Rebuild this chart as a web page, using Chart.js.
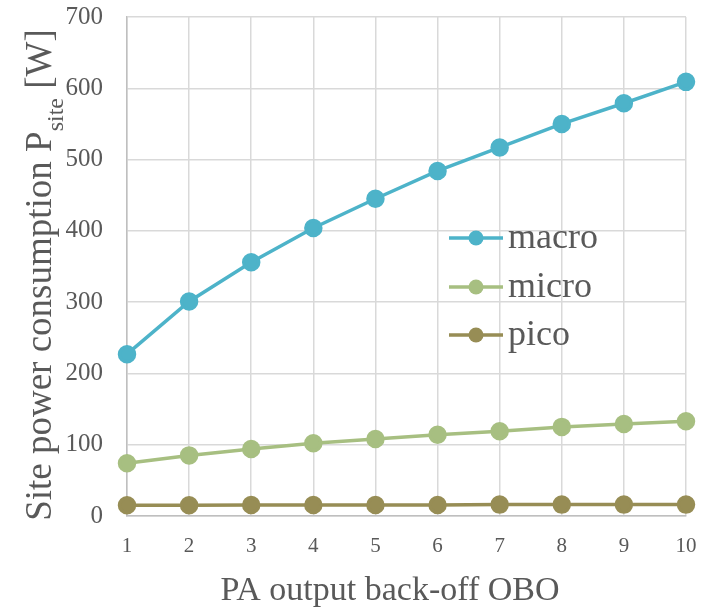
<!DOCTYPE html>
<html>
<head>
<meta charset="utf-8">
<script src="https://cdn.jsdelivr.net/npm/chart.js@4"></script>
<style>
  html, body { margin: 0; padding: 0; background: #fff; }
  #wrap { width: 703px; height: 608px; position: relative; }
</style>
</head>
<body>
<div id="wrap"><canvas id="obo-chart"></canvas></div>
<script>
const obo = ['1', '2', '3', '4', '5', '6', '7', '8', '9', '10'];
const macro = [227, 301, 356, 404, 445, 484, 517, 550, 579, 609];
const micro = [74, 85, 94, 102, 108, 114, 119, 125, 129, 133];
const pico = [15, 15, 15.5, 15.5, 15.5, 15.5, 16, 16, 16, 16];

const textColor = '#595959';
const serif = '"Liberation Serif", "Times New Roman", serif';

const colors = {
  macro: '#4db3c9',
  micro: '#a7bf81',
  pico: '#978d55'
};

function series(label, values, color) {
  return {
    label: label,
    data: values,
    borderColor: color,
    backgroundColor: color,
    pointBackgroundColor: color,
    pointBorderColor: color,
    borderWidth: 3.5,
    pointRadius: 7.5,
    pointHoverRadius: 7.5,
    tension: 0
  };
}

// axis titles (y one needs a subscript) and the in-plot legend
const decorations = {
  id: 'decorations',
  afterDraw(chart) {
    const ctx = chart.ctx;
    ctx.save();
    ctx.fillStyle = textColor;
    ctx.textBaseline = 'alphabetic';

    // x title
    ctx.font = '34px ' + serif;
    ctx.textAlign = 'center';
    ctx.fillText('PA output back-off OBO', 390, 600);

    // y title, rotated
    const main1 = 'Site power consumption P';
    const sub = 'site';
    const main2 = ' [W]';
    ctx.textAlign = 'left';
    ctx.translate(51, 275);
    ctx.rotate(-Math.PI / 2);
    ctx.font = '37px ' + serif;
    const w1 = ctx.measureText(main1).width;
    const w3 = ctx.measureText(main2).width;
    ctx.font = '24px ' + serif;
    const w2 = ctx.measureText(sub).width;
    let x = -(w1 + w2 + w3) / 2;
    ctx.font = '37px ' + serif;
    ctx.fillText(main1, x, 0);
    x += w1;
    ctx.font = '24px ' + serif;
    ctx.fillText(sub, x, 12);
    x += w2;
    ctx.font = '37px ' + serif;
    ctx.fillText(main2, x, 0);
    ctx.restore();

    // legend inside the plot
    ctx.save();
    const rows = [238, 287, 335];
    chart.data.datasets.forEach(function (ds, i) {
      const y = rows[i];
      ctx.strokeStyle = ds.borderColor;
      ctx.lineWidth = 3.5;
      ctx.beginPath();
      ctx.moveTo(449, y);
      ctx.lineTo(503, y);
      ctx.stroke();
      ctx.fillStyle = ds.borderColor;
      ctx.beginPath();
      ctx.arc(476, y, 7.5, 0, Math.PI * 2);
      ctx.fill();
      ctx.fillStyle = textColor;
      ctx.font = '36px ' + serif;
      ctx.textAlign = 'left';
      ctx.textBaseline = 'middle';
      ctx.fillText(ds.label, 508, y + 1);
    });
    ctx.restore();
  }
};

// tick padding also pads the chart area, so the label gap comes from
// invisible tick marks instead
const config = {
  type: 'line',
  data: {
    labels: obo,
    datasets: [
      series('macro', macro, colors.macro),
      series('micro', micro, colors.micro),
      series('pico', pico, colors.pico)
    ]
  },
  options: {
    responsive: true,
    maintainAspectRatio: false,
    animation: false,
    layout: {
      autoPadding: false,
      padding: { top: 17, right: 17, left: 0, bottom: 0 }
    },
    plugins: {
      legend: { display: false },
      tooltip: { enabled: false }
    },
    scales: {
      x: {
        offset: false,
        grid: {
          color: '#d9d9d9', lineWidth: 1.5,
          drawTicks: true, tickLength: 18, tickColor: 'rgba(0,0,0,0)'
        },
        border: { color: '#bfbfbf', width: 1.5 },
        ticks: {
          color: textColor,
          padding: 0,
          maxRotation: 0,
          font: { family: serif, size: 21 }
        },
        afterFit(scale) { scale.height = 92; }
      },
      y: {
        min: 0,
        max: 700,
        grid: {
          color: '#d9d9d9', lineWidth: 1.5,
          drawTicks: true, tickLength: 24, tickColor: 'rgba(0,0,0,0)'
        },
        border: { color: '#bfbfbf', width: 1.5 },
        ticks: {
          stepSize: 100,
          color: textColor,
          padding: 0,
          font: { family: serif, size: 25 }
        },
        afterFit(scale) { scale.width = 127; }
      }
    }
  },
  plugins: [decorations]
};

const oboChart = new Chart(document.getElementById('obo-chart'), config);
</script>
</body>
</html>
